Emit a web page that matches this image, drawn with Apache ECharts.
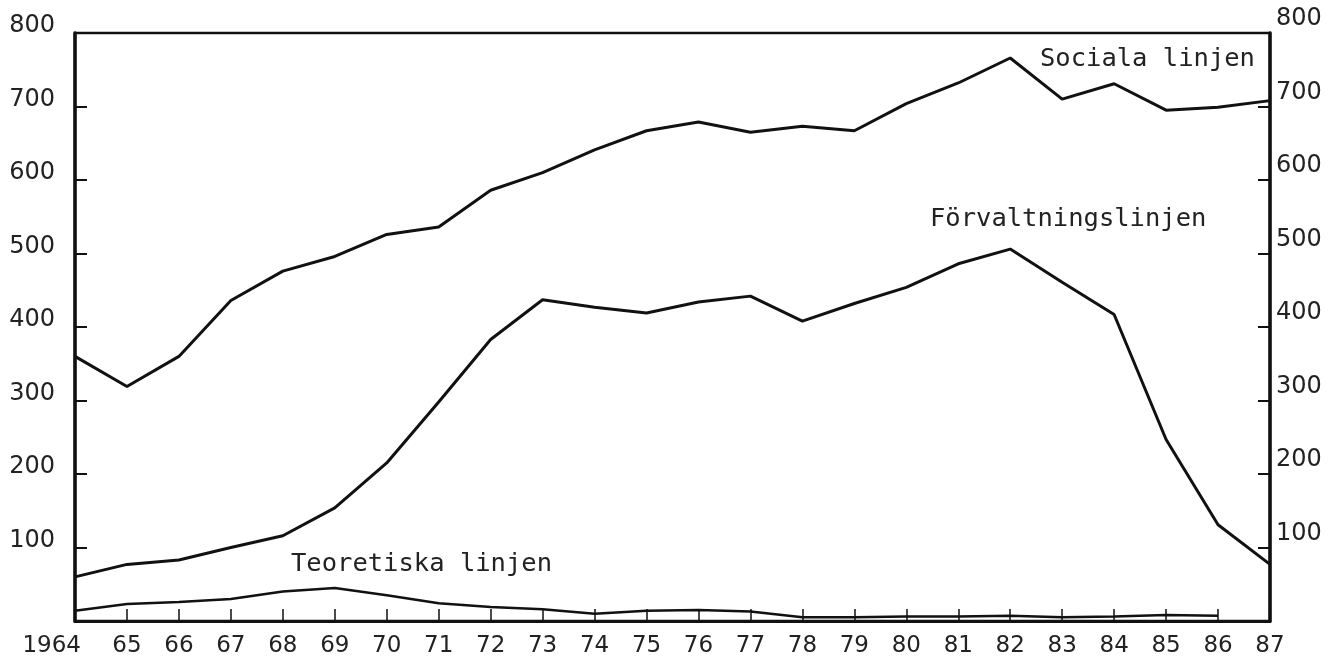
<!DOCTYPE html>
<html>
<head>
<meta charset="utf-8">
<script src="https://cdn.jsdelivr.net/npm/echarts@6/dist/echarts.min.js"></script>
<style>
  html,body{margin:0;padding:0;background:#fff;}
  #chart{width:1343px;height:663px;}
</style>
</head>
<body>
<div id="chart"></div>
<script>
// år (x-axel)
var years = ['1964','65','66','67','68','69','70','71','72','73','74','75',
             '76','77','78','79','80','81','82','83','84','85','86','87'];

// Sociala linjen
var sociala = [360,319,360,436,476,496,526,536,586,610,641,667,
               679,665,673,667,704,732,766,710,731,695,699,708];

// Förvaltningslinjen
var forvaltning = [60,77,83,100,116,154,215,298,383,437,427,419,
                   434,442,408,432,454,486,506,461,417,247,131,77];

// Teoretiska linjen
var teoretiska = [14,23,26,30,40,45,35,24,19,16,10,14,
                  15,13,5,5,6,6,7,5,6,8,7,null];

var ink = '#111';
var textInk = '#222';

var myChart = echarts.init(document.getElementById('chart'));

//första etiketten ligger till vänster om axeln
var xData = years.map(function(y, i){
    if(i == 0) return {value: y, textStyle: {align: 'right', padding: [0, -6, 0, 0]}};
    return y;
});

function yLabel(v){
    return v == 0 ? '' : String(v);
}

function $extend(a, b){
    var o = {};
    for(var k in a) o[k] = a[k];
    for(var k2 in b) o[k2] = b[k2];
    return o;
}

var lineBase = {
    type: 'line',
    showSymbol: false,
    symbol: 'none',
    smooth: false,
    lineStyle: {color: ink, width: 3},
    z: 3
};

var option = {
    animation: false,
    backgroundColor: '#fff',
    grid: {
        left: 75, right: 73, top: 33, bottom: 42,
        show: true,
        borderColor: ink,
        borderWidth: 2.5
    },
    xAxis: {
        type: 'category',
        data: xData,
        boundaryGap: false,
        axisLine: {lineStyle: {color: ink, width: 3}},
        axisTick: {inside: true, length: 12, lineStyle: {color: ink, width: 1.5}},
        axisLabel: {
            color: textInk, fontFamily: 'DejaVu Sans', fontSize: 23,
            margin: 14, interval: 0
        },
        splitLine: {show: false}
    },
    yAxis: [
        {
            type: 'value', min: 0, max: 800, interval: 100, position: 'left',
            axisLine: {show: true, lineStyle: {color: ink, width: 3.5}},
            axisTick: {show: true, inside: true, length: 12, lineStyle: {color: ink, width: 2}},
            axisLabel: {
                color: textInk, fontFamily: 'DejaVu Sans', fontSize: 24,
                margin: 20, verticalAlign: 'bottom', lineHeight: 14,
                formatter: yLabel
            },
            splitLine: {show: false}
        },
        {
            type: 'value', min: 0, max: 800, interval: 100, position: 'right',
            axisLine: {show: true, lineStyle: {color: ink, width: 3.5}},
            axisTick: {show: true, inside: true, length: 12, lineStyle: {color: ink, width: 2}},
            axisLabel: {
                color: textInk, fontFamily: 'DejaVu Sans', fontSize: 24,
                margin: 6, verticalAlign: 'bottom', lineHeight: 28,
                formatter: yLabel
            },
            splitLine: {show: false}
        }
    ],
    graphic: [
        {type: 'text', left: 1040, top: 46, z: 10,
         style: {text: 'Sociala linjen', fill: textInk, font: '25.5px "DejaVu Sans Mono"', backgroundColor: '#fff'}},
        {type: 'text', left: 930, top: 206, z: 10,
         style: {text: 'Förvaltningslinjen', fill: textInk, font: '25.5px "DejaVu Sans Mono"'}},
        {type: 'text', left: 291, top: 551, z: 10,
         style: {text: 'Teoretiska linjen', fill: textInk, font: '25.5px "DejaVu Sans Mono"'}}
    ],
    series: [
        $extend(lineBase, {name: 'Sociala linjen', data: sociala}),
        $extend(lineBase, {name: 'Förvaltningslinjen', data: forvaltning}),
        $extend(lineBase, {name: 'Teoretiska linjen', data: teoretiska, lineStyle: {color: ink, width: 2.5}})
    ]
};

myChart.setOption(option);
window.onresize = myChart.resize;
</script>
</body>
</html>
